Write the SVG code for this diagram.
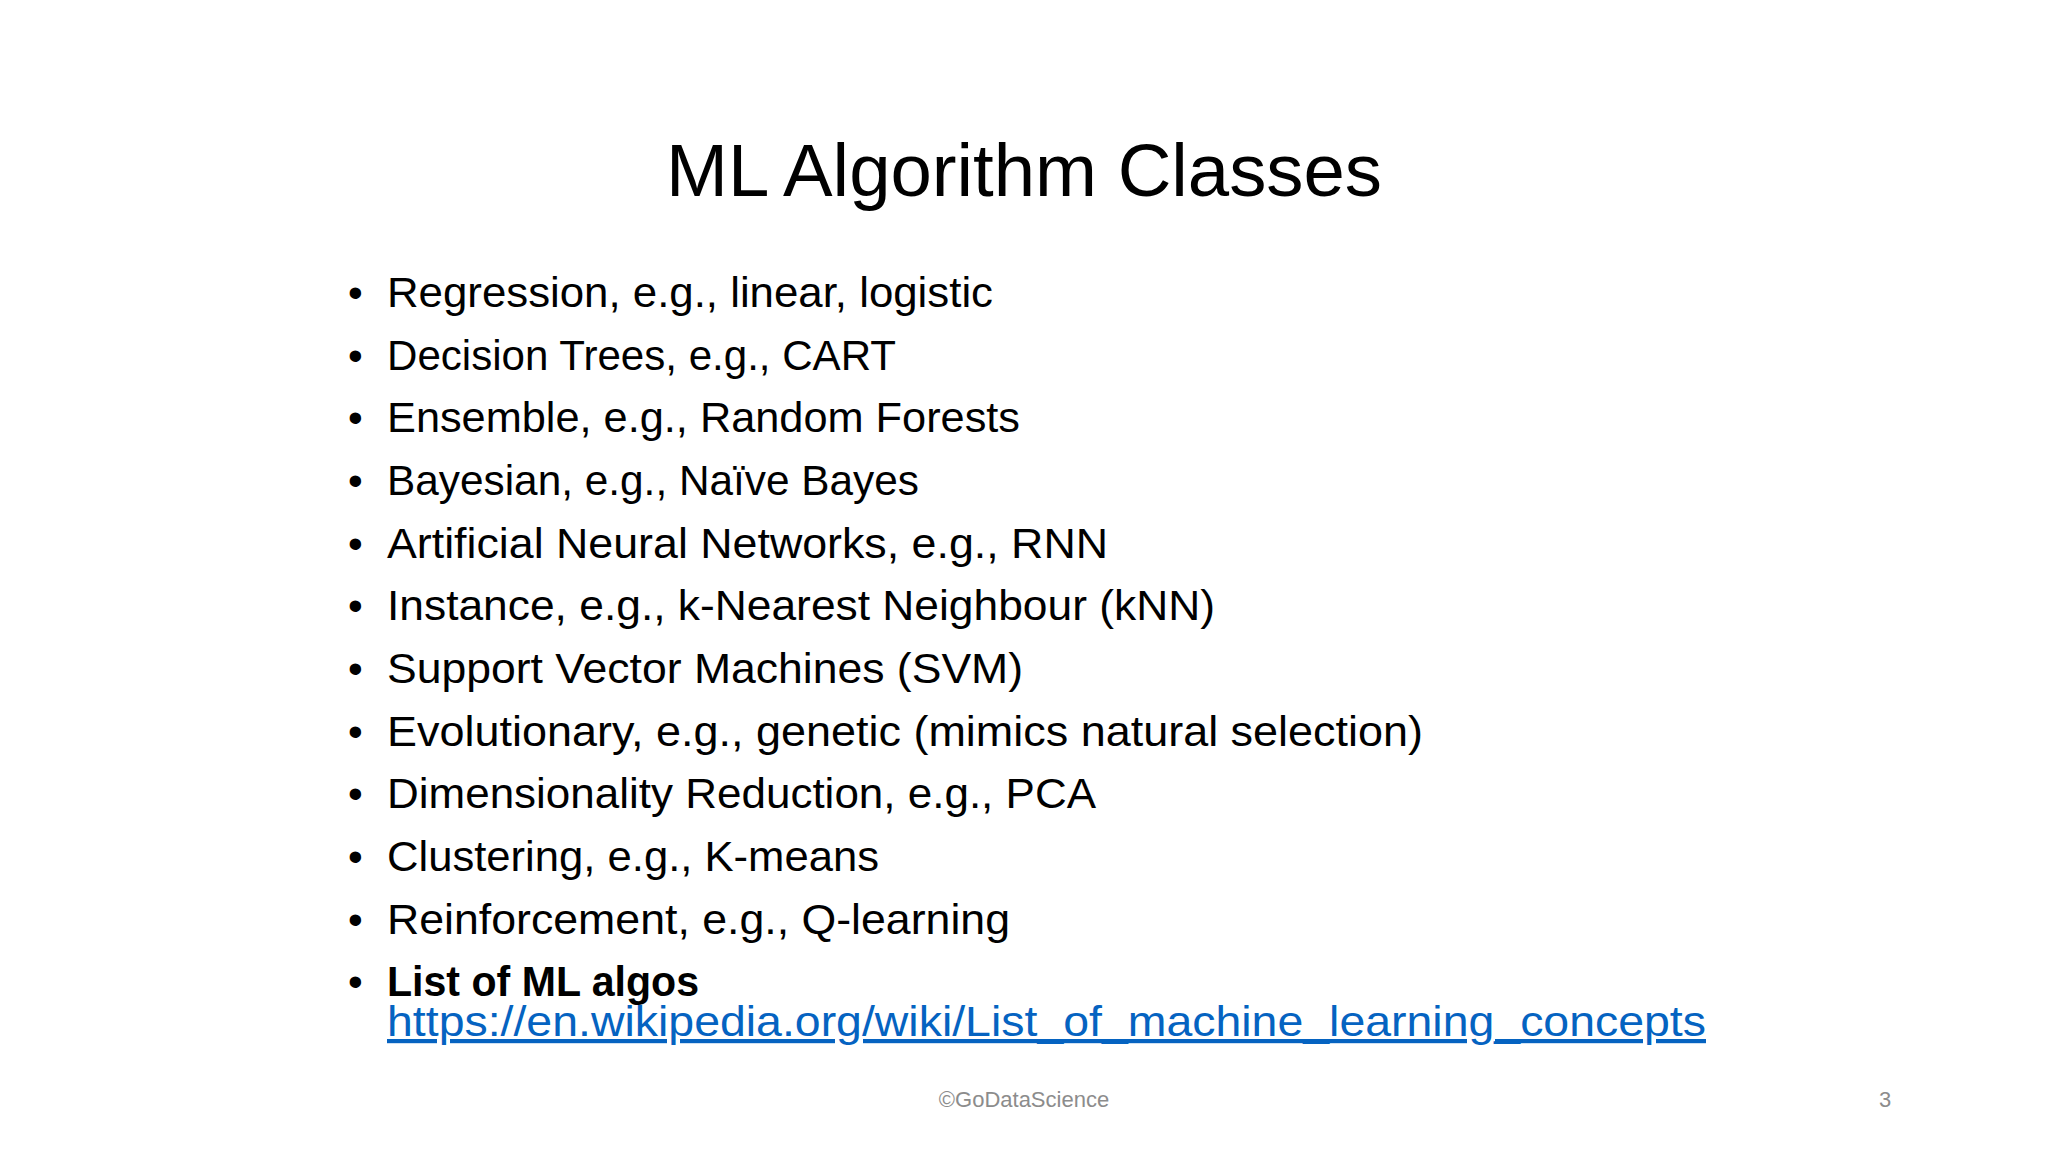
<svg xmlns="http://www.w3.org/2000/svg" width="2048" height="1152" viewBox="0 0 2048 1152">
<style>
.t{font-family:"Liberation Sans",Arial,sans-serif;font-size:42px;fill:#000}
.b{font-family:"Liberation Sans",Arial,sans-serif;font-size:42px;fill:#000}
.f{font-family:"Liberation Sans",Arial,sans-serif;font-size:22px;fill:#8c8c8c}
</style>
<rect width="2048" height="1152" fill="#fff"/>
<g id="title"><text x="1024" y="196" text-anchor="middle" font-family="Liberation Sans,Arial,sans-serif" font-size="74" textLength="716" lengthAdjust="spacingAndGlyphs">ML Algorithm Classes</text></g>
<g id="bullets">
<g class="b">
<text x="348" y="307">•</text><text x="348" y="370">•</text><text x="348" y="432">•</text><text x="348" y="495">•</text><text x="348" y="558">•</text><text x="348" y="620">•</text><text x="348" y="683">•</text><text x="348" y="746">•</text><text x="348" y="808">•</text><text x="348" y="871">•</text><text x="348" y="934">•</text><text x="348" y="996">•</text>
</g>
<text class="t" x="387" y="307" textLength="606" lengthAdjust="spacingAndGlyphs">Regression, e.g., linear, logistic</text>
<text class="t" x="387" y="370" textLength="509" lengthAdjust="spacingAndGlyphs">Decision Trees, e.g., CART</text>
<text class="t" x="387" y="432" textLength="633" lengthAdjust="spacingAndGlyphs">Ensemble, e.g., Random Forests</text>
<text class="t" x="387" y="495" textLength="532" lengthAdjust="spacingAndGlyphs">Bayesian, e.g., Naïve Bayes</text>
<text class="t" x="387" y="558" textLength="721" lengthAdjust="spacingAndGlyphs">Artificial Neural Networks, e.g., RNN</text>
<text class="t" x="387" y="620" textLength="828" lengthAdjust="spacingAndGlyphs">Instance, e.g., k-Nearest Neighbour (kNN)</text>
<text class="t" x="387" y="683" textLength="636" lengthAdjust="spacingAndGlyphs">Support Vector Machines (SVM)</text>
<text class="t" x="387" y="746" textLength="1036" lengthAdjust="spacingAndGlyphs">Evolutionary, e.g., genetic (mimics natural selection)</text>
<text class="t" x="387" y="808" textLength="709" lengthAdjust="spacingAndGlyphs">Dimensionality Reduction, e.g., PCA</text>
<text class="t" x="387" y="871" textLength="492" lengthAdjust="spacingAndGlyphs">Clustering, e.g., K-means</text>
<text class="t" x="387" y="934" textLength="623" lengthAdjust="spacingAndGlyphs">Reinforcement, e.g., Q-learning</text>
<text class="t" x="387" y="996" font-weight="bold" textLength="312" lengthAdjust="spacingAndGlyphs">List of ML algos</text>
<text class="t" x="387" y="1036" fill="#0563C1" style="fill:#0563C1" text-decoration="underline" textLength="1319" lengthAdjust="spacingAndGlyphs">https://en.wikipedia.org/wiki/List_of_machine_learning_concepts</text>
</g>
<g id="footer">
<text class="f" x="1024" y="1107" text-anchor="middle">©GoDataScience</text>
<text class="f" x="1885" y="1107" text-anchor="middle">3</text>
</g>
</svg>
